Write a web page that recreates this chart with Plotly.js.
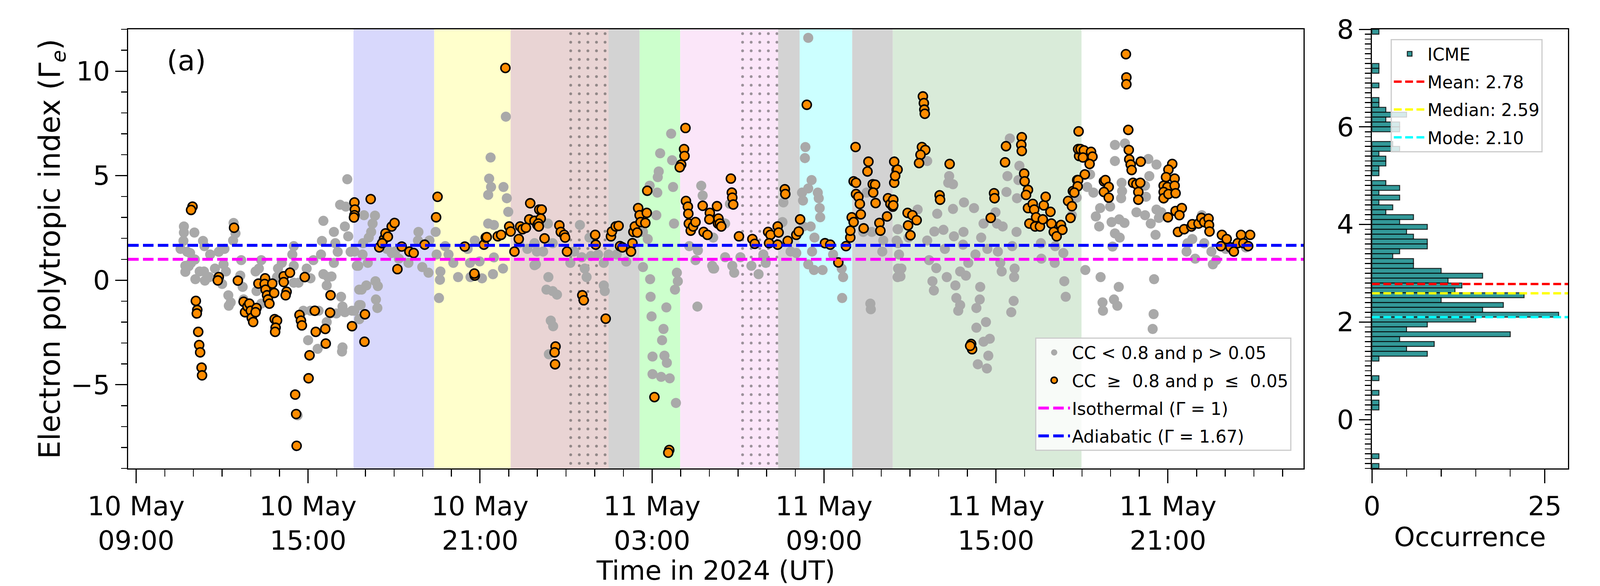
<!DOCTYPE html>
<html>
<head>
<meta charset="utf-8">
<script src="https://cdn.plot.ly/plotly-3.0.1.min.js"></script>
<style>html,body{margin:0;padding:0;background:#fff;overflow:hidden;}</style>
</head>
<body>
<div id="chart"></div>
<script>
// ---------------- DATA ----------------
// time of each point: minutes after 2024-05-10 00:00 UT
const grayMin = [
640,640,662,639,680,683,647,653,663,643,650,643,664,684,682,695,713,725,723,728,720,738,734,744,748,743,760,758,763,765,802,797,792,802,845,837,844,870,867,870,880,870,897,905,900,920,890,905,922,932,929,927,911,932,942,949,939,954,967,979,982,977,984,957,962,989,954,947,959,969,972,977,992,972,971,939,1007,1007,1007,1002,878,633,655,673,693,705,733,790,835,
1017,1040,1035,1032,1027,1015,997,1014,1005,1025,1022,1012,1041,1046,1042,1045,1010,997,1007,1065,1075,1082,1090,1110,1131,1130,1139,1152,1154,1167,1169,1177,1176,1174,1187,1194,1204,1214,1234,1239,1240,1249,1259,1264,1277,1282,1279,1283,1277,1289,1289,1287,1309,1314,1316,1319,1308,1341,1359,1374,1379,
1402,1374,1412,1392,1377,1403,1399,1412,1421,1408,1413,1404,1469,1457,1449,1473,1479,1483,1492,1489,1507,1519,1521,1529,1519,1546,1566,1601,1611,1601,1615,1637,1634,1632,1631,1629,1660,1662,1664,1666,1616,1617,1619,1650,1644,1641,1621,1646,1651,1621,1639,1657,1670,1672,1674,1668,1723,1726,1698,1716,1711,1715,1746,1748,
1748,1750,1773,1773,1783,1792,1788,1805,1828,1843,1853,1858,1895,1893,1910,1922,1937,1947,1941,1940,1934,1936,1947,1954,1967,1969,1971,1972,1952,1960,1955,1947,1959,1977,1999,2017,2020,2018,2077,2078,2069,2062,2080,2104,2102,2134,2135,2135,2134,
2135,2132,2137,2142,2140,2157,2176,2196,2196,2200,2207,2210,2215,2211,2217,2230,2233,2237,2240,2242,2250,2250,2252,2255,2257,2261,2265,2265,2272,2271,2273,2277,2282,2294,2297,2299,2302,2307,2306,2299,2319,2327,2324,2321,2314,2309,2314,2322,2339,2342,2344,2349,2352,2354,2362,2364,2369,2377,2372,2374,2379,2378,2383,2384,2387,2389,2434,2435,2463,2464,2481,2483,2486,2499,2509,
2527,2537,2531,2544,2549,2558,2556,2559,2563,2564,2589,2589,2603,2604,2602,2579,2582,2598,2609,2589,2599,2584,2597,2587,2594,2610,2634,2652,2659,2654,2661,2652,2664,2674,2676,2676,2681,2686,2671,2670,2668,2741,2739,2751,2757,2771,2776,2791,2794,2801,2863,2821
];
const grayGamma = [
2.57,2.28,2.28,1.88,1.88,1.63,1.36,1.30,0.99,0.69,0.67,0.40,0.05,-0.02,0.42,1.23,1.36,1.50,0.76,0.42,-0.18,-1.06,-1.22,2.74,2.24,1.90,0.96,0.22,-0.32,-0.92,0.96,0.56,-0.52,-1.12,0.83,0.56,0.15,1.63,1.23,0.69,-0.12,-0.12,0.56,0.09,-2.87,-3.28,-1.46,-1.46,-1.46,2.84,1.88,1.23,0.96,0.29,0.15,0.18,-0.25,2.31,3.61,3.52,4.83,2.57,2.10,1.77,1.36,1.36,0.83,-1.59,-1.59,-0.79,-1.26,-1.53,-1.46,-3.21,-3.41,-2.00,-0.45,-1.19,-1.86,0.69,-6.46,1.50,0.83,0.42,0.15,0.56,-0.72,0.42,0.15,
3.11,3.09,2.71,2.31,2.04,1.77,1.37,1.23,0.69,0.83,-0.25,-0.45,-0.05,-0.28,-0.92,-1.33,-1.19,-1.46,-1.86,1.50,1.30,1.37,1.03,0.83,2.31,1.90,0.63,0.36,1.90,2.31,1.23,0.42,0.02,-0.85,1.63,1.23,0.83,0.15,1.50,0.83,0.15,1.90,0.90,0.09,2.71,5.87,4.86,4.46,4.08,2.64,1.09,0.29,4.46,7.82,3.92,3.27,0.56,1.77,1.50,0.72,1.37,
2.71,1.77,1.77,1.37,0.76,0.15,-0.45,-0.52,-0.69,-1.93,-2.20,-3.54,2.64,1.37,0.83,1.10,0.56,0.15,1.16,2.04,1.23,-0.25,-0.52,1.23,0.83,1.23,0.89,2.31,1.97,0.63,4.52,6.07,5.20,4.93,4.19,3.11,7.01,5.74,4.46,2.71,0.05,-0.79,-1.73,-1.30,-2.33,-2.87,-3.65,-3.61,-3.95,-4.49,-4.62,-4.69,-5.87,0.36,-0.05,-0.45,4.52,4.05,1.63,1.43,0.96,-1.26,0.69,0.56,
2.04,0.56,2.71,1.10,3.65,0.36,0.69,1.10,0.69,0.29,1.23,0.83,3.72,2.78,1.37,1.30,2.57,11.59,6.37,5.84,4.19,3.81,4.39,4.79,4.19,3.92,3.45,3.01,2.57,2.04,1.37,0.76,0.49,0.49,1.23,0.56,0.15,-0.85,-1.12,-1.39,4.19,2.31,2.31,1.90,1.37,2.44,1.77,0.56,0.15,
2.44,1.90,1.23,0.56,0.18,2.04,3.38,5.70,1.90,0.96,-0.05,-0.49,0.58,2.33,3.18,2.41,1.50,0.15,4.66,4.98,4.59,3.41,2.10,-0.25,-0.85,-1.46,-1.19,0.42,2.31,1.70,3.72,0.22,0.83,3.45,1.23,-2.27,-4.02,-0.32,-0.92,-1.33,-2.00,-2.80,-3.61,-4.22,-2.94,2.04,2.71,1.50,3.25,2.71,1.37,0.83,0.42,2.57,4.22,4.98,6.78,-0.99,-1.53,1.63,0.56,0.15,2.31,3.92,4.79,5.47,1.77,1.03,0.83,1.63,1.30,-0.05,-0.79,3.11,3.95,
0.49,5.06,4.46,4.19,3.05,3.45,2.57,0.15,-1.06,-1.46,6.47,5.70,4.66,4.26,3.92,3.52,2.78,2.91,2.74,2.24,2.04,1.61,-0.32,-0.92,-1.22,6.54,3.25,4.52,5.80,3.99,4.98,3.11,2.71,2.17,5.53,3.38,2.98,3.25,0.05,-1.62,-2.33,1.77,1.37,1.97,1.03,3.11,1.77,1.37,0.76,0.96,1.57,1.50
];
const orangeMin = [
658,655,665,668,667,670,672,674,677,678,713,711,745,753,765,768,773,777,780,782,785,792,790,796,810,809,811,814,816,819,825,829,830,835,832,831,849,849,862,855,853,873,875,876,882,885,887,893,914,916,903,901,936,937,946,947,992,997,998,997,996,
1031,1019,1018,1049,1059,1062,1067,1075,1081,1055,1087,1096,1112,1121,1144,1171,1168,1228,1249,1248,1268,1272,1274,1297,1304,1313,1321,1324,1332,1341,1344,1349,1356,1363,1365,1374,1380,1384,
1389,1387,1382,1383,1395,1426,1429,1436,1438,1442,1474,1477,1418,1416,1417,1501,1502,1523,1534,1536,1544,1550,1553,1558,1579,1576,1581,1584,1589,1591,1594,1596,1609,1606,1610,1625,1656,1654,1690,1687,1688,1681,1678,1691,1695,1696,1697,1701,1706,1711,1726,1741,1740,1728,1736,1756,1758,
1759,1762,1765,1785,1787,1788,1790,1802,1830,1835,1863,1868,1865,1883,1885,1883,1898,1899,1904,1922,1927,1930,1944,1982,1993,2010,2026,2035,2035,2038,2042,2046,2042,2047,2047,2052,2055,2057,2063,2073,2071,2082,2087,2083,2088,2096,2098,2112,2114,2119,2124,2127,2132,2127,
2134,2129,2125,2125,2155,2156,2161,2165,2174,2187,2189,2190,2191,2185,2192,2182,2179,2243,2222,2223,2329,2336,2337,2361,2359,2394,2393,2394,2399,2400,2407,2403,2407,2410,2417,2420,2424,2422,2432,2438,2440,2444,2454,2456,2461,2467,2476,2479,2491,2499,2496,2501,2510,2513,2513,2514,2288,2290,2286,
2512,2517,2524,2522,2539,2542,2536,2526,2512,2511,2504,2566,2569,2576,2566,2576,2612,2613,2613,2617,2618,2619,2622,2624,2643,2627,2634,2642,2638,2638,2709,2701,2696,2714,2691,2699,2714,2691,2691,2701,2716,2700,2716,2729,2724,2721,2734,2749,2751,2764,2770,2776,2785,2786,2787,2813,2811,2823,2831,2838,2846,2853,2858,2872,2868
];
const orangeGamma = [
3.52,3.36,-0.99,-1.42,-1.59,-2.47,-3.10,-3.45,-4.18,-4.55,0.15,-0.01,2.51,-0.02,-1.03,-1.53,-1.26,-1.12,-1.46,-1.80,-2.00,-1.33,-1.53,-0.16,0.09,-0.18,-0.45,-0.72,-0.92,-1.12,-0.16,-0.61,-1.86,-1.93,-2.27,-2.47,0.19,-0.09,0.36,-0.55,-0.72,-5.47,-6.40,-7.92,-1.66,-1.93,-2.16,0.15,-1.46,-2.47,-3.59,-4.69,-2.33,-3.03,-1.55,-0.72,-2.20,3.72,3.38,3.11,3.00,
3.88,-1.63,-2.94,1.57,1.97,2.24,2.08,2.57,2.74,1.77,0.53,1.61,1.37,1.30,1.70,3.99,3.01,1.61,0.22,0.32,1.70,2.04,2.06,2.10,2.17,10.15,2.57,2.33,1.37,1.97,2.57,2.44,2.51,2.91,3.68,2.84,2.64,3.38,
3.38,2.95,2.71,2.57,2.00,2.62,2.31,2.17,2.04,1.37,-0.72,-0.96,-3.17,-3.45,-4.02,2.17,1.70,-1.84,2.10,2.33,2.57,2.60,1.63,1.57,1.77,1.37,2.31,2.57,2.28,3.45,3.11,2.78,3.22,2.74,4.28,-5.59,-8.12,-8.25,7.28,6.27,5.94,5.53,5.40,3.79,3.52,3.18,2.71,2.37,2.57,2.78,3.56,3.22,2.91,2.31,2.17,3.54,2.71,
2.95,2.71,2.57,4.86,4.19,3.95,3.62,2.10,1.97,1.74,2.31,2.17,1.77,2.57,2.28,1.70,4.35,4.12,1.88,2.17,2.33,2.91,8.39,1.77,1.70,0.85,1.63,2.04,2.37,3.01,2.78,6.37,4.73,4.66,4.12,3.99,3.65,3.15,2.48,5.67,5.20,4.59,4.57,4.19,3.69,2.74,2.37,3.05,3.92,3.65,3.52,5.67,5.27,4.66,
5.29,4.99,3.85,3.58,3.22,2.62,2.15,3.11,2.87,8.79,8.47,8.16,7.96,6.37,6.23,6.00,5.60,5.56,4.06,3.85,2.98,4.16,3.92,6.41,5.64,6.84,6.48,6.18,5.10,4.73,4.32,4.08,3.45,2.71,3.65,3.38,3.01,2.57,2.57,2.91,3.58,3.99,3.27,2.71,2.31,2.10,2.64,2.41,3.79,3.54,2.98,4.26,4.79,7.12,6.27,5.94,-3.05,-3.30,-3.14,
6.27,6.27,6.21,5.87,6.14,5.91,5.56,5.06,4.79,4.49,4.19,4.73,4.79,4.46,4.22,3.95,10.81,9.70,9.37,7.19,6.23,5.78,5.53,5.27,5.67,4.66,4.59,4.66,4.22,3.85,5.56,5.29,4.93,4.86,4.52,4.46,4.52,4.22,3.92,4.12,4.16,3.01,3.31,3.45,3.11,2.31,2.44,2.57,2.68,2.71,2.98,2.78,2.95,2.64,2.33,2.17,1.63,1.97,1.57,1.37,1.77,2.17,1.77,2.17,1.63
];
// event intervals (shaded backgrounds)
const spanStart = ['2024-05-10 16:35','2024-05-10 19:24','2024-05-10 22:04','2024-05-11 01:29','2024-05-11 02:34','2024-05-11 03:59','2024-05-11 07:24','2024-05-11 08:09','2024-05-11 09:59','2024-05-11 11:24'];
const spanEnd   = ['2024-05-10 19:24','2024-05-10 22:04','2024-05-11 01:29','2024-05-11 02:34','2024-05-11 03:59','2024-05-11 07:24','2024-05-11 08:09','2024-05-11 09:59','2024-05-11 11:24','2024-05-11 17:59'];
const hatchStart = ['2024-05-11 00:00','2024-05-11 06:00'];
const hatchEnd   = ['2024-05-11 01:29','2024-05-11 07:24'];
// reference indices
const isothermal = 1.0;
const adiabatic = 1.67;
// histogram (bin centre, count)
const histCenter = [7.95,7.25,7.15,6.85,6.55,6.45,6.35,6.25,6.15,6.05,5.95,5.65,5.55,5.45,5.35,5.25,5.15,5.05,4.85,4.75,4.65,4.55,4.45,4.35,4.25,4.15,4.05,3.95,3.85,3.75,3.65,3.55,3.45,3.35,3.25,3.15,3.05,2.95,2.85,2.75,2.65,2.55,2.45,2.35,2.25,2.15,2.05,1.95,1.85,1.75,1.65,1.55,1.45,1.35,1.25,0.85,0.55,0.35,0.25,-0.75,-0.95];
const histCount  = [1,1,1,1,1,1,2,5,2,4,4,3,4,1,2,2,1,1,2,4,1,4,1,3,2,6,4,8,5,6,8,8,4,3,6,6,10,16,11,13,12,22,10,19,16,27,15,8,5,20,4,9,5,8,1,1,1,1,1,1,1];
const histBinWidth = 0.1;
const statNames = ['Mean', 'Median', 'Mode'];
const statValues = [2.78, 2.59, 2.10];
// axis tick labels
const xTickTimes = ['2024-05-10 09:00','2024-05-10 15:00','2024-05-10 21:00','2024-05-11 03:00','2024-05-11 09:00','2024-05-11 15:00','2024-05-11 21:00'];
const xTickText = ['10 May<br>09:00','10 May<br>15:00','10 May<br>21:00','11 May<br>03:00','11 May<br>09:00','11 May<br>15:00','11 May<br>21:00'];

// ---------------- STYLE / GEOMETRY ----------------
const W = Math.min(window.innerWidth || 4800, 4800);
const H = Math.min(window.innerHeight || 1500, 1500);
const sx = W / 4800, sy = H / 1500;
document.getElementById('chart').style.width = W + 'px';
document.getElementById('chart').style.height = H + 'px';

const spanColors = ['#d8d8fc','#ffffcc','#e9d4d4','#d3d3d3','#ccffcc','#fbe6f9','#d3d3d3','#ccffff','#d3d3d3','#d9ebd9'];
const X_RANGE = ['2024-05-10 08:43:15','2024-05-12 01:44:00'];
const Y_RANGE = [-9, 12];
const H_XRANGE = [0, 28.35];
const H_YRANGE = [-1, 8];
const FONT = 'DejaVu Sans';
const fs = Math.sqrt(sx * sy);
const F_TICK = Math.round(74 * Math.max(fs, 0.89));
const F_YTITLE = Math.round(74 * sy);
const F_LEG = Math.round(50 * Math.max(sx, 0.88));

const T0 = Date.UTC(2024, 4, 10, 0, 0, 0);
const toTime = m => new Date(T0 + m * 60000).toISOString().slice(0, 19).replace('T', ' ');
const toMs = s => Date.parse(s.replace(' ', 'T') + ':00Z');
const msToStr = ms => new Date(ms).toISOString().slice(0, 19).replace('T', ' ');

const traces = [];

// hatch (dotted) intervals, drawn as pattern-filled bars beneath the points
traces.push({
  type: 'bar', xaxis: 'x', yaxis: 'y',
  x: hatchStart.map((s, i) => msToStr((toMs(s) + toMs(hatchEnd[i])) / 2)),
  width: hatchStart.map((s, i) => toMs(hatchEnd[i]) - toMs(s)),
  y: hatchStart.map(() => Y_RANGE[1] - Y_RANGE[0]),
  base: hatchStart.map(() => Y_RANGE[0]),
  marker: {color: 'rgba(0,0,0,0)', line: {width: 0},
           pattern: {shape: '.', fgcolor: '#3c3c3c', bgcolor: 'rgba(0,0,0,0)', size: Math.round(24 * fs), solidity: 0.085, fillmode: 'overlay'}},
  showlegend: false, hoverinfo: 'skip'
});

traces.push({
  type: 'scatter', mode: 'markers', xaxis: 'x', yaxis: 'y',
  x: grayMin.map(toTime), y: grayGamma,
  name: 'CC < 0.8 and p > 0.05', legendgroup: 'g1',
  marker: {color: '#a9a9a9', size: 28 * fs, line: {width: 0}},
  legend: 'legend'
});
traces.push({
  type: 'scatter', mode: 'markers', xaxis: 'x', yaxis: 'y',
  x: orangeMin.map(toTime), y: orangeGamma,
  name: 'CC\u00a0 \u2265\u00a0 0.8 and p\u00a0 \u2264\u00a0 0.05', legendgroup: 'g2',
  marker: {color: '#ff8c00', size: 25 * fs, line: {color: '#000000', width: 3.8}},
  legend: 'legend'
});
traces.push({
  type: 'scatter', mode: 'lines', xaxis: 'x', yaxis: 'y',
  x: X_RANGE, y: [isothermal, isothermal],
  name: 'Isothermal (\u0393 = 1)', legendgroup: 'g3',
  line: {color: '#ff00ff', width: 7.5, dash: Math.round(32 * sx) + 'px,' + Math.round(13 * sx) + 'px'},
  legend: 'legend', hoverinfo: 'skip'
});
traces.push({
  type: 'scatter', mode: 'lines', xaxis: 'x', yaxis: 'y',
  x: X_RANGE, y: [adiabatic, adiabatic],
  name: 'Adiabatic (\u0393 = 1.67)', legendgroup: 'g4',
  line: {color: '#0000ff', width: 7.5, dash: Math.round(32 * sx) + 'px,' + Math.round(13 * sx) + 'px'},
  legend: 'legend', hoverinfo: 'skip'
});

// histogram
traces.push({
  type: 'bar', orientation: 'h', xaxis: 'x2', yaxis: 'y2',
  y: histCenter, x: histCount, width: histBinWidth,
  name: 'ICME', legendgroup: 'h1',
  marker: {color: '#339999', line: {color: 'rgba(0,0,0,0.8)', width: 2.5}},
  legend: 'legend2'
});
const statColors = ['#ff0000', '#ffff00', '#00ffff'];
statNames.forEach((n, i) => {
  traces.push({
    type: 'scatter', mode: 'lines', xaxis: 'x2', yaxis: 'y2',
    x: H_XRANGE, y: [statValues[i], statValues[i]],
    name: n + ': ' + statValues[i].toFixed(2), legendgroup: 'h' + (i + 2),
    line: {color: statColors[i], width: 6, dash: Math.round(23 * sx) + 'px,' + Math.round(10 * sx) + 'px'},
    legend: 'legend2', hoverinfo: 'skip'
  });
});

const shapes = spanStart.map((s, i) => ({
  type: 'rect', layer: 'below', xref: 'x', yref: 'y domain',
  x0: s, x1: spanEnd[i], y0: 0, y1: 1,
  fillcolor: spanColors[i], line: {width: 0}
}));

const axisCommon = {
  showline: true, linecolor: '#000', linewidth: 3, mirror: true,
  ticks: 'outside', tickwidth: 3, tickcolor: '#000',
  showgrid: false, zeroline: false,
  tickfont: {family: FONT, size: F_TICK, color: '#000'}
};
const minorX = {ticks: 'outside', ticklen: 18 * sy, tickwidth: 2.5, tickcolor: '#000', showgrid: false};
const minorY = {ticks: 'outside', ticklen: 18 * sx, tickwidth: 2.5, tickcolor: '#000', showgrid: false};

const legendCommon = {
  xanchor: 'left', yanchor: 'top',
  bgcolor: 'rgba(255,255,255,0.8)', bordercolor: '#cccccc', borderwidth: 3,
  font: {family: FONT, size: F_LEG, color: '#000'},
  itemwidth: Math.round(95 * sx), traceorder: 'grouped', tracegroupgap: Math.round(11 * sy)
};

const layout = {
  width: W, height: H,
  margin: {l: 384 * sx, r: 96 * sx, t: 75 * sy, b: 301 * sy},
  paper_bgcolor: '#fff', plot_bgcolor: '#fff',
  font: {family: FONT, size: F_TICK, color: '#000'},
  showlegend: true,
  xaxis: Object.assign({}, axisCommon, {
    domain: [0, 0.8164], anchor: 'y', type: 'date', range: X_RANGE, ticklen: 35 * sy,
    tickmode: 'array', tickvals: xTickTimes, ticktext: xTickText,
    minor: Object.assign({}, minorX, {tickmode: 'linear', tick0: '2024-05-10 00:00', dtick: 3600000}),
    title: {text: 'Time in 2024 (UT)', font: {family: FONT, size: F_TICK}, standoff: 2}
  }),
  yaxis: Object.assign({}, axisCommon, {
    domain: [0, 1], anchor: 'x', range: Y_RANGE, ticklen: 35 * sx,
    tickmode: 'linear', tick0: 0, dtick: 5,
    minor: Object.assign({}, minorY, {tickmode: 'linear', tick0: 0, dtick: 1}),
    title: {text: 'Electron polytropic index (\u0393<sub><i>e</i></sub>)', font: {family: FONT, size: F_YTITLE}, standoff: 4}
  }),
  xaxis2: Object.assign({}, axisCommon, {
    domain: [0.8639, 1], anchor: 'y2', range: H_XRANGE, ticklen: 35 * sy,
    tickmode: 'array', tickvals: [0, 25],
    minor: Object.assign({}, minorX, {tickmode: 'linear', tick0: 0, dtick: 5}),
    title: {text: 'Occurrence', font: {family: FONT, size: F_TICK}, standoff: 14 * sy}
  }),
  yaxis2: Object.assign({}, axisCommon, {
    domain: [0, 1], anchor: 'x2', range: H_YRANGE, ticklen: 35 * sx,
    tickmode: 'linear', tick0: 0, dtick: 2,
    minor: Object.assign({}, minorY, {tickmode: 'linear', tick0: 0, dtick: 0.1})
  }),
  legend: Object.assign({}, legendCommon, {x: 0.63, y: 0.298}),
  legend2: Object.assign({}, legendCommon, {x: 0.8769, y: 0.978}),
  shapes: shapes,
  annotations: [{
    xref: 'paper', yref: 'paper', x: 0.0262, y: 0.9288, xanchor: 'left', yanchor: 'middle',
    text: '(a)', showarrow: false, font: {family: FONT, size: Math.round(78 * Math.max(fs, 0.89)), color: '#000'}
  }]
};

Plotly.newPlot('chart', traces, layout, {staticPlot: true});
</script>
</body>
</html>
